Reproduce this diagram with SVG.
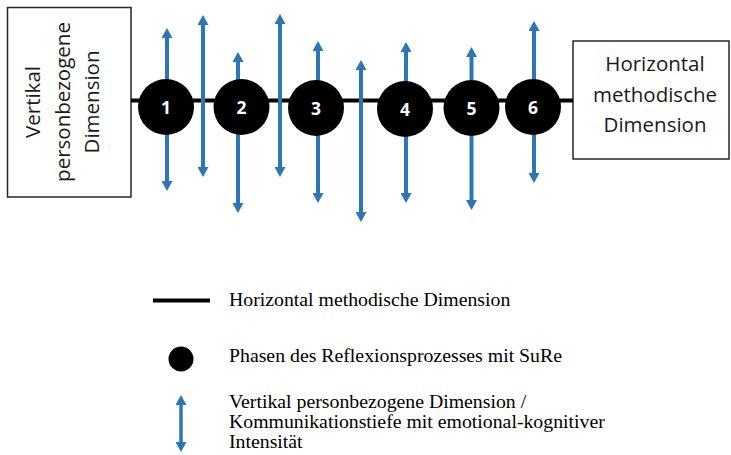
<svg xmlns="http://www.w3.org/2000/svg" width="731" height="455" viewBox="0 0 731 455">
  <style>
    .box { fill: #ffffff; stroke: #262626; stroke-width: 1.5; }
    .boxtext { font-family: "Open Sans", "Noto Sans", sans-serif; font-size: 20.5px; fill: #1a1a1a; text-anchor: middle; }
    .axis { stroke: #000000; stroke-width: 4; fill: none; }
    .vert { stroke: #2E75B6; stroke-width: 4; marker-start: url(#head); marker-end: url(#head); }
    .vert-legend { stroke: #2E75B6; stroke-width: 3.5; marker-start: url(#head); marker-end: url(#head); }
    .phase { fill: #000000; }
    .num { font-family: "Open Sans", "Noto Sans", sans-serif; font-weight: bold; font-size: 17.5px; fill: #ffffff; text-anchor: middle; }
    .legend { font-family: "Liberation Serif", "Times New Roman", serif; font-size: 19.8px; fill: #000000; }
  </style>
  <defs>
    <marker id="head" viewBox="0 0 10 11" refX="2" refY="5.5" markerWidth="10" markerHeight="11" markerUnits="userSpaceOnUse" orient="auto-start-reverse">
      <path d="M0,0 L10,5.5 L0,11 z" fill="#2E75B6"/>
    </marker>
  </defs>

  <!-- dimension boxes -->
  <g id="vertical-dimension">
    <rect class="box" x="7.5" y="7.5" width="123.5" height="189.5"/>
    <g transform="translate(63,102) rotate(-90)">
      <text class="boxtext" x="0" y="-23">Vertikal</text>
      <text class="boxtext" x="0" y="7">personbezogene</text>
      <text class="boxtext" x="0" y="36">Dimension</text>
    </g>
  </g>
  <g id="horizontal-dimension">
    <rect class="box" x="573" y="41" width="156" height="118"/>
    <text class="boxtext" x="655" y="71">Horizontal</text>
    <text class="boxtext" x="655" y="102">methodische</text>
    <text class="boxtext" x="655" y="132">Dimension</text>
  </g>

  <!-- axis and vertical depth arrows -->
  <g id="connectors">
    <line class="axis" x1="131" y1="100.5" x2="573" y2="100.5"/>
    <line class="vert" x1="167" y1="36" x2="167" y2="183"/>
    <line class="vert" x1="203" y1="23" x2="203" y2="169"/>
    <line class="vert" x1="238" y1="60" x2="238" y2="205"/>
    <line class="vert" x1="280" y1="22" x2="280" y2="169"/>
    <line class="vert" x1="318" y1="49" x2="318" y2="195"/>
    <line class="vert" x1="361" y1="68" x2="361" y2="214"/>
    <line class="vert" x1="406" y1="50" x2="406" y2="195"/>
    <line class="vert" x1="471.5" y1="55" x2="471.5" y2="202"/>
    <line class="vert" x1="534" y1="29" x2="534" y2="175"/>
  </g>

  <!-- reflection phases -->
  <g id="phase-1">
    <circle class="phase" cx="166" cy="107" r="28"/>
    <text class="num" x="166" y="114">1</text>
  </g>
  <g id="phase-2">
    <circle class="phase" cx="241.5" cy="107" r="28"/>
    <text class="num" x="241.5" y="114">2</text>
  </g>
  <g id="phase-3">
    <circle class="phase" cx="316" cy="108" r="28"/>
    <text class="num" x="316" y="115">3</text>
  </g>
  <g id="phase-4">
    <circle class="phase" cx="405" cy="109" r="28"/>
    <text class="num" x="405" y="116">4</text>
  </g>
  <g id="phase-5">
    <circle class="phase" cx="471.5" cy="108" r="28"/>
    <text class="num" x="471.5" y="115">5</text>
  </g>
  <g id="phase-6">
    <circle class="phase" cx="533" cy="107" r="28"/>
    <text class="num" x="533" y="114">6</text>
  </g>

  <!-- legend -->
  <g id="legend-axis">
    <line class="axis" x1="153" y1="300.5" x2="210" y2="300.5"/>
    <text class="legend" x="229" y="306">Horizontal methodische Dimension</text>
  </g>
  <g id="legend-phase">
    <circle class="phase" cx="181" cy="359" r="12.5"/>
    <text class="legend" x="229" y="362">Phasen des Reflexionsprozesses mit SuRe</text>
  </g>
  <g id="legend-vertical">
    <line class="vert-legend" x1="181" y1="403" x2="181" y2="444"/>
    <text class="legend" x="229" y="408">Vertikal personbezogene Dimension /</text>
    <text class="legend" x="229" y="428">Kommunikationstiefe mit emotional-kognitiver</text>
    <text class="legend" x="229" y="448">Intensität</text>
  </g>
</svg>
